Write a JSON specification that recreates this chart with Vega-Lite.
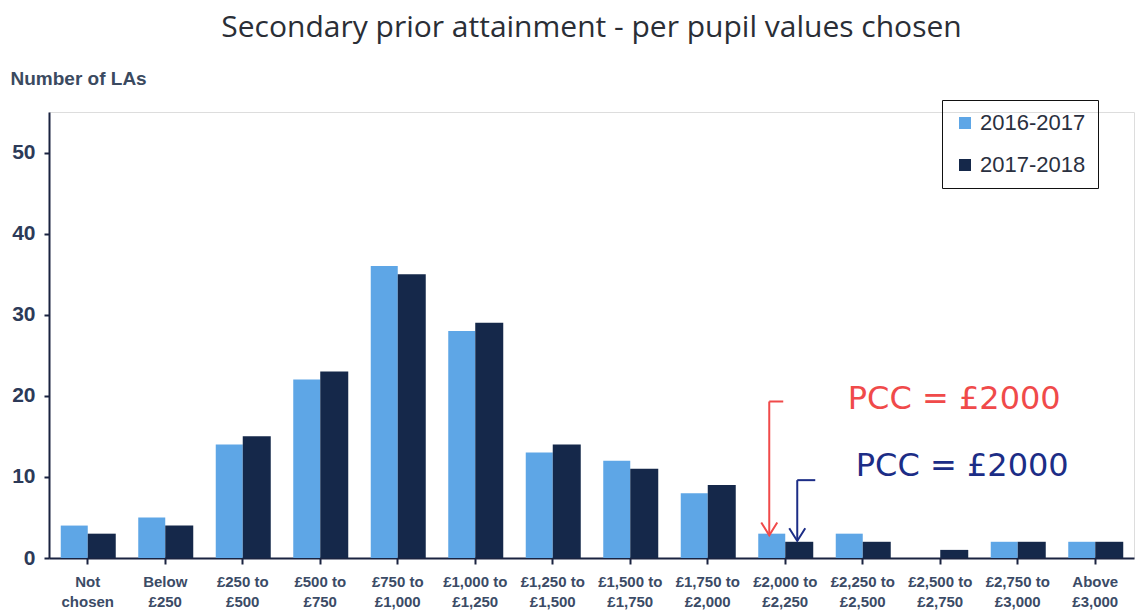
{
  "$schema": "https://vega.github.io/schema/vega-lite/v6.json",
  "width": 1085,
  "height": 446,
  "autosize": {"type": "none"},
  "padding": {"left": 49, "top": 112, "right": 2, "bottom": 55},
  "background": "white",
  "title": {
    "text": "Secondary prior attainment - per pupil values chosen",
    "font": "Open Sans",
    "fontSize": 30,
    "fontWeight": "normal",
    "color": "#2a2e36",
    "offset": 26
  },
  "data": {"values": [
      {"category": "Not chosen", "series": "2016-2017", "count": 4},
      {"category": "Not chosen", "series": "2017-2018", "count": 3},
      {"category": "Below £250", "series": "2016-2017", "count": 5},
      {"category": "Below £250", "series": "2017-2018", "count": 4},
      {"category": "£250 to £500", "series": "2016-2017", "count": 14},
      {"category": "£250 to £500", "series": "2017-2018", "count": 15},
      {"category": "£500 to £750", "series": "2016-2017", "count": 22},
      {"category": "£500 to £750", "series": "2017-2018", "count": 23},
      {"category": "£750 to £1,000", "series": "2016-2017", "count": 36},
      {"category": "£750 to £1,000", "series": "2017-2018", "count": 35},
      {"category": "£1,000 to £1,250", "series": "2016-2017", "count": 28},
      {"category": "£1,000 to £1,250", "series": "2017-2018", "count": 29},
      {"category": "£1,250 to £1,500", "series": "2016-2017", "count": 13},
      {"category": "£1,250 to £1,500", "series": "2017-2018", "count": 14},
      {"category": "£1,500 to £1,750", "series": "2016-2017", "count": 12},
      {"category": "£1,500 to £1,750", "series": "2017-2018", "count": 11},
      {"category": "£1,750 to £2,000", "series": "2016-2017", "count": 8},
      {"category": "£1,750 to £2,000", "series": "2017-2018", "count": 9},
      {"category": "£2,000 to £2,250", "series": "2016-2017", "count": 3},
      {"category": "£2,000 to £2,250", "series": "2017-2018", "count": 2},
      {"category": "£2,250 to £2,500", "series": "2016-2017", "count": 3},
      {"category": "£2,250 to £2,500", "series": "2017-2018", "count": 2},
      {"category": "£2,500 to £2,750", "series": "2016-2017", "count": 0},
      {"category": "£2,500 to £2,750", "series": "2017-2018", "count": 1},
      {"category": "£2,750 to £3,000", "series": "2016-2017", "count": 2},
      {"category": "£2,750 to £3,000", "series": "2017-2018", "count": 2},
      {"category": "Above £3,000", "series": "2016-2017", "count": 2},
      {"category": "Above £3,000", "series": "2017-2018", "count": 2}
  ]},
  "encoding": {
    "x": {
      "field": "category",
      "type": "nominal",
      "sort": null,
      "scale": {"paddingInner": 0.29, "paddingOuter": 0.145},
      "axis": {
        "title": null,
        "labelAngle": 0,
        "labelExpr": "indexof(datum.value, ' to ') >= 0 ? [slice(datum.value, 0, indexof(datum.value, ' to ') + 3), slice(datum.value, indexof(datum.value, ' to ') + 4)] : split(datum.value, ' ')",
        "labelFont": "Liberation Sans",
        "labelFontSize": 15,
        "labelFontWeight": "bold",
        "labelColor": "#3b4b66",
        "labelPadding": 10,
        "labelLineHeight": 20,
        "tickSize": 6,
        "tickColor": "#1a2340",
        "tickWidth": 2,
        "domainColor": "#1a2340",
        "domainWidth": 2
      }
    },
    "y": {
      "field": "count",
      "type": "quantitative",
      "scale": {"domain": [0, 55], "nice": false},
      "axis": {
        "title": "Number of LAs",
        "titleAngle": 0,
        "titleAlign": "left",
        "titleBaseline": "middle",
        "titleX": -39,
        "titleY": -34,
        "titleFont": "Liberation Sans",
        "titleFontSize": 19,
        "titleFontWeight": "bold",
        "titleColor": "#3b4a60",
        "values": [0, 10, 20, 30, 40, 50],
        "grid": false,
        "labelFont": "Liberation Sans",
        "labelFontSize": 21,
        "labelFontWeight": "bold",
        "labelColor": "#2c3a58",
        "labelPadding": 9,
        "tickSize": 5,
        "tickColor": "#1a2340",
        "tickWidth": 2,
        "domainColor": "#1a2340",
        "domainWidth": 2
      }
    }
  },
  "layer": [
    {
      "transform": [{"filter": "datum.series == '2016-2017'"}],
      "mark": {"type": "bar", "width": 27, "xOffset": -13.5},
      "encoding": {
        "color": {
          "field": "series",
          "type": "nominal",
          "scale": {"domain": ["2016-2017", "2017-2018"], "range": ["#5ea6e6", "#15284a"]},
          "legend": {
            "title": null,
            "orient": "none",
            "legendX": 893,
            "legendY": -12,
            "strokeColor": "#111111",
            "padding": 12,
            "rowPadding": 20,
            "symbolType": "square",
            "symbolSize": 144,
            "labelFont": "Liberation Sans",
            "labelFontSize": 22,
            "labelColor": "#2a3040",
            "labelOffset": 4
          }
        }
      }
    },
    {
      "transform": [{"filter": "datum.series == '2017-2018'"}],
      "mark": {"type": "bar", "width": 28, "xOffset": 14},
      "encoding": {
        "color": {"field": "series", "type": "nominal"}
      }
    },
    {
      "data": {"values": [{"category": "£2,000 to £2,250", "count": 19.3, "tip": 2.8}]},
      "mark": {"type": "rule", "strokeWidth": 2, "color": "#f04a4a", "xOffset": -16},
      "encoding": {"y2": {"field": "tip"}}
    },
    {
      "data": {"values": [{"category": "£2,000 to £2,250", "count": 2.8}]},
      "mark": {"type": "point", "shape": "M-1,-1.6L0,0L1,-1.6", "size": 256, "filled": false, "strokeWidth": 2, "opacity": 1, "color": "#f04a4a", "xOffset": -16}
    },
    {
      "data": {"values": [{"category": "£2,000 to £2,250", "count": 19.3}]},
      "mark": {"type": "point", "shape": "M0,0L2,0", "size": 196, "filled": false, "strokeWidth": 2, "opacity": 1, "color": "#f04a4a", "xOffset": -16}
    },
    {
      "data": {"values": [{"category": "£2,500 to £2,750", "count": 19.6, "label": "PCC = £2000"}]},
      "mark": {"type": "text", "font": "DejaVu Sans", "fontSize": 32, "align": "center", "baseline": "middle", "color": "#f04a4a", "dx": 14},
      "encoding": {"text": {"field": "label"}}
    },
    {
      "data": {"values": [{"category": "£2,000 to £2,250", "count": 9.6, "tip": 2.1}]},
      "mark": {"type": "rule", "strokeWidth": 2, "color": "#1c2d86", "xOffset": 12},
      "encoding": {"y2": {"field": "tip"}}
    },
    {
      "data": {"values": [{"category": "£2,000 to £2,250", "count": 2.1}]},
      "mark": {"type": "point", "shape": "M-1,-1.6L0,0L1,-1.6", "size": 256, "filled": false, "strokeWidth": 2, "opacity": 1, "color": "#1c2d86", "xOffset": 12}
    },
    {
      "data": {"values": [{"category": "£2,000 to £2,250", "count": 9.6}]},
      "mark": {"type": "point", "shape": "M0,0L2,0", "size": 324, "filled": false, "strokeWidth": 2, "opacity": 1, "color": "#1c2d86", "xOffset": 12}
    },
    {
      "data": {"values": [{"category": "£2,500 to £2,750", "count": 11.3, "label": "PCC = £2000"}]},
      "mark": {"type": "text", "font": "DejaVu Sans", "fontSize": 32, "align": "center", "baseline": "middle", "color": "#1c2d86", "dx": 22},
      "encoding": {"text": {"field": "label"}}
    }
  ]
}
